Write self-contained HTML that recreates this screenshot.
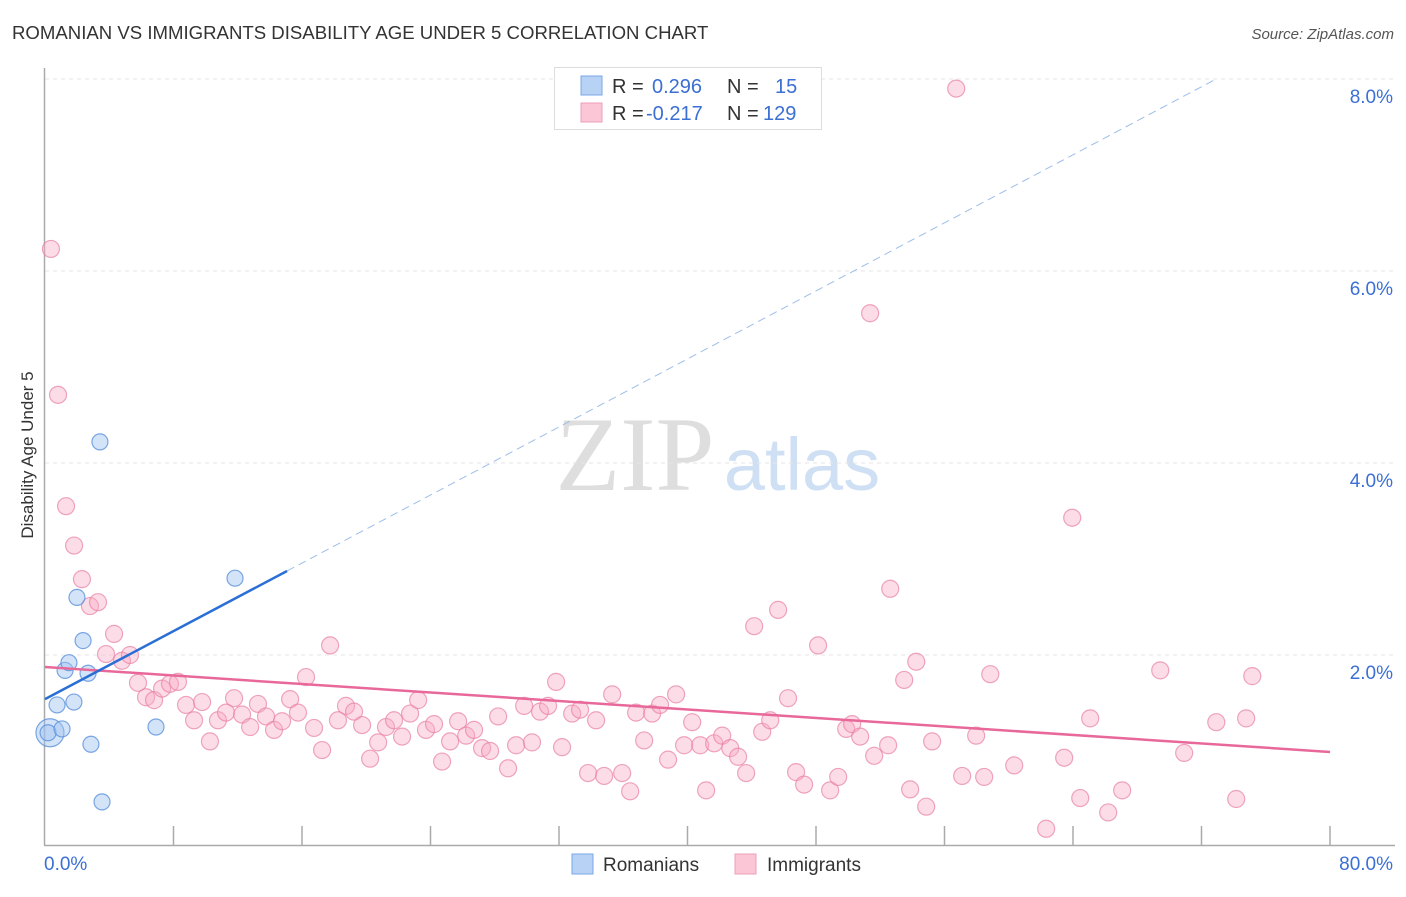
<!DOCTYPE html>
<html><head><meta charset="utf-8"><style>
body{margin:0;background:#fff;font-family:"Liberation Sans",sans-serif}
svg text{font-family:"Liberation Sans",sans-serif}
</style></head><body>
<svg id="c" width="1406" height="892" xmlns="http://www.w3.org/2000/svg">
<text x="12" y="39" font-size="18.6" fill="#333">ROMANIAN VS IMMIGRANTS DISABILITY AGE UNDER 5 CORRELATION CHART</text>
<text x="1394" y="39" font-size="15" fill="#555" text-anchor="end" font-style="italic">Source: ZipAtlas.com</text>
<text x="635" y="490" font-size="106" fill="#dedede" text-anchor="middle" font-family="Liberation Serif" style="font-family:'Liberation Serif',serif">ZIP</text>
<text x="802" y="490" font-size="74" fill="#cfe0f5" text-anchor="middle">atlas</text>
<g id="grid"></g>
<g id="axes"></g>
<g id="marks"></g>
<text x="33" y="455" font-size="17" fill="#333" text-anchor="middle" transform="rotate(-90 33 455)">Disability Age Under 5</text>
<g>
<rect x="554.5" y="67.5" width="267" height="62" fill="#fff" stroke="#ddd"/>
<rect x="581" y="76" width="21" height="19" fill="#b7d2f5" stroke="#7aa7e6"/>
<rect x="581" y="103" width="21" height="19" fill="#fbc6d6" stroke="#ee9fb8"/>
<text x="612" y="93" font-size="20" fill="#333">R = <tspan fill="#3b6fd4" x="652">0.296</tspan><tspan fill="#333" x="727">N =</tspan><tspan fill="#3b6fd4" x="775">15</tspan></text>
<text x="612" y="120" font-size="20" fill="#333">R = <tspan fill="#3b6fd4" x="646">-0.217</tspan><tspan fill="#333" x="727">N =</tspan><tspan fill="#3b6fd4" x="763">129</tspan></text>
</g>
<g>
<rect x="572" y="854" width="21" height="20" fill="#b7d2f5" stroke="#7aa7e6"/>
<text x="603" y="871" font-size="19" fill="#333">Romanians</text>
<rect x="735" y="854" width="21" height="20" fill="#fbc6d6" stroke="#ee9fb8"/>
<text x="767" y="871" font-size="19" fill="#333">Immigrants</text>
</g>
</svg>
<script>
const yTicks=[2,4,6,8];
const yTickLabels=["2.0%","4.0%","6.0%","8.0%"];
const romX=[0.31,0.19,0.75,1.06,1.25,1.49,1.8,1.99,2.37,2.68,2.86,3.42,3.55,6.91,11.83];
const romY=[1.19,1.19,1.48,1.23,1.84,1.92,1.51,2.6,2.15,1.81,1.07,4.22,0.47,1.25,2.8];
const romR=[14,8,8,8,8,8,8,8,8,8,8,8,8,8,8];
const immX=[0.37,0.81,1.31,1.81,2.30,2.80,3.30,4.30,3.80,4.79,5.29,5.79,6.29,6.79,7.29,7.78,8.28,8.78,9.28,9.78,10.27,10.77,11.27,11.77,12.27,12.77,13.26,13.76,14.26,14.76,15.26,15.75,16.25,16.75,17.25,17.75,18.24,18.74,19.24,19.74,20.24,20.74,21.23,21.73,22.23,22.73,23.23,23.72,24.22,24.72,25.22,25.72,26.22,26.71,27.21,27.71,28.21,28.83,29.33,29.83,30.32,30.82,31.32,31.82,32.19,32.82,33.31,33.81,34.31,34.81,35.31,35.93,36.43,36.80,37.30,37.80,38.29,38.79,39.29,39.79,40.29,40.79,41.16,41.66,42.16,42.66,43.15,43.65,44.15,44.65,45.15,45.64,46.26,46.76,47.26,48.13,48.88,49.38,49.88,50.25,50.75,51.62,51.37,52.49,52.62,53.49,53.86,54.24,54.86,55.23,56.73,57.10,57.97,58.47,58.85,60.34,62.33,63.45,63.95,64.45,65.07,66.19,67.06,69.43,70.92,72.92,74.16,74.78,75.16];
const immY=[6.23,4.71,3.55,3.14,2.79,2.51,2.55,2.22,2.01,1.94,2.00,1.71,1.56,1.53,1.65,1.70,1.72,1.48,1.32,1.51,1.10,1.32,1.40,1.55,1.38,1.25,1.49,1.36,1.22,1.31,1.54,1.40,1.77,1.24,1.01,2.10,1.32,1.47,1.41,1.27,0.92,1.09,1.25,1.32,1.15,1.39,1.53,1.22,1.28,0.89,1.10,1.31,1.16,1.22,1.03,1.00,1.36,0.82,1.06,1.47,1.09,1.41,1.47,1.72,1.04,1.39,1.43,0.77,1.32,0.74,1.59,0.77,0.58,1.40,1.11,1.39,1.48,0.91,1.59,1.06,1.30,1.06,0.59,1.08,1.16,1.03,0.94,0.77,2.30,1.20,1.32,2.47,1.55,0.78,0.65,2.10,0.59,0.73,1.23,1.28,1.15,0.95,5.56,1.06,2.69,1.74,0.60,1.93,0.42,1.10,7.90,0.74,1.16,0.73,1.80,0.85,0.19,0.93,3.43,0.51,1.34,0.36,0.59,1.84,0.98,1.30,0.50,1.34,1.78];
const romFit=[1.54,0.0886];
const immFit=[1.875,-0.01106];
const xs=v=>45+v*16.0625, ys=v=>847-v*96;
const NS="http://www.w3.org/2000/svg";
function mk(p,t,a){const e=document.createElementNS(NS,t);for(const k in a)e.setAttribute(k,a[k]);p.appendChild(e);return e;}
const grid=document.getElementById('grid'),axes=document.getElementById('axes'),marks=document.getElementById('marks');
yTicks.forEach((t,i)=>{
 const l=mk(grid,'line',{x1:45,x2:1395,y1:ys(t),y2:ys(t),stroke:'#e6e6e6','stroke-dasharray':'4 4'});
 
 
 const tx=mk(axes,'text',{x:1393,y:ys(t)+24,'font-size':19,fill:'#3b6fd4','text-anchor':'end'});
 tx.textContent=yTickLabels[i];
 
 
});
let a=mk(axes,'line',{x1:44.5,x2:44.5,y1:68,y2:845,stroke:'#aaa','stroke-width':1.5});


a=mk(axes,'line',{x1:44,x2:1395,y1:845.5,y2:845.5,stroke:'#aaa','stroke-width':1.5});


for(let i=1;i<=10;i++){const v=i*8;
 const t=mk(axes,'line',{x1:xs(v),x2:xs(v),y1:826,y2:845,stroke:'#aaa','stroke-width':1.5});
 
 
}
let xl=mk(axes,'text',{x:44,y:870,'font-size':19,fill:'#3b6fd4'});xl.textContent='0.0%';


xl=mk(axes,'text',{x:1393,y:870,'font-size':19,fill:'#3b6fd4','text-anchor':'end'});xl.textContent='80.0%';


immX.forEach((x,i)=>{
 const c=mk(marks,'circle',{cx:xs(x),cy:ys(immY[i]),r:8.5,fill:'rgba(247,170,195,0.4)',stroke:'rgba(232,128,162,0.7)','stroke-width':1.2});
 
 
});
romX.forEach((x,i)=>{
 const c=mk(marks,'circle',{cx:xs(x),cy:ys(romY[i]),r:romR[i],fill:'rgba(160,195,240,0.45)',stroke:'rgba(90,145,220,0.8)','stroke-width':1.2});
 
 
});
let l=mk(marks,'line',{x1:xs(0),y1:ys(immFit[0]),x2:xs(80),y2:ys(immFit[0]+immFit[1]*80),stroke:'#e8689a','stroke-width':2.5});


const xEnd=15.07, xMax=(8-romFit[0])/romFit[1];
l=mk(marks,'line',{x1:xs(0),y1:ys(romFit[0]),x2:xs(xEnd),y2:ys(romFit[0]+romFit[1]*xEnd),stroke:'#2a6fd6','stroke-width':2.5});


l=mk(marks,'line',{x1:xs(xEnd),y1:ys(romFit[0]+romFit[1]*xEnd),x2:xs(xMax),y2:ys(8),stroke:'#9dbde9','stroke-width':1,'stroke-dasharray':'8 5'});


</script>
</body></html>
